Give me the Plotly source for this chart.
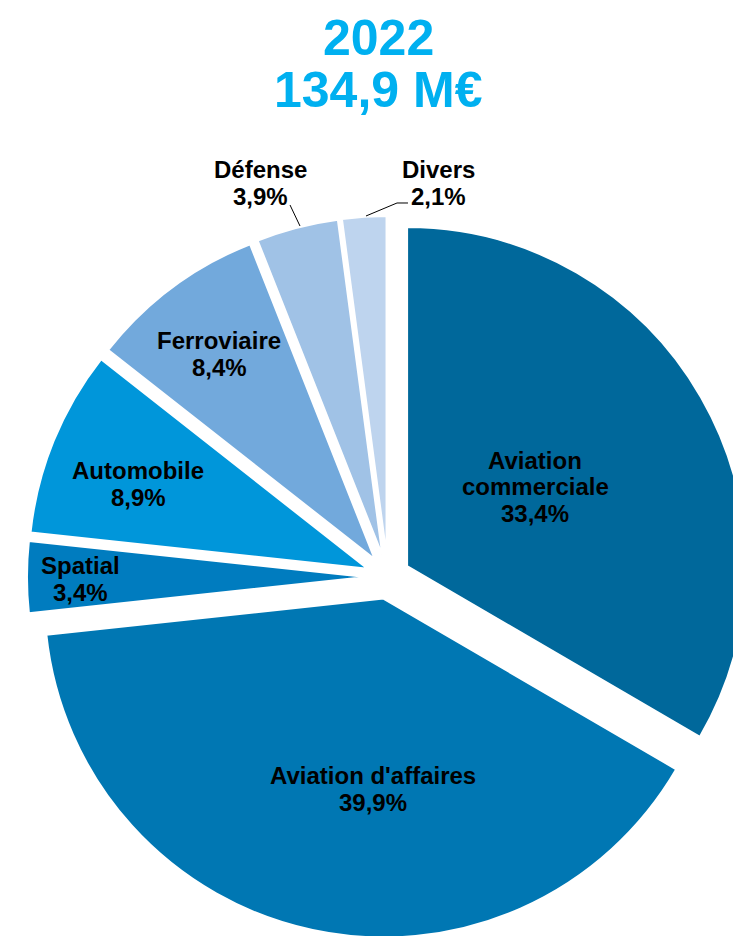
import plotly.graph_objects as go

categories = ["Aviation<br>commerciale", "Aviation d'affaires", "Spatial", "Automobile",
              "Ferroviaire", "Défense", "Divers"]
shares = [33.4, 39.9, 3.4, 8.9, 8.4, 3.9, 2.1]
share_labels = ["33,4%", "39,9%", "3,4%", "8,9%", "8,4%", "3,9%", "2,1%"]
colors = ["#00689B", "#0077B3", "#007CBF", "#0096DA", "#72A9DC", "#A0C2E6", "#BED4EE"]
title_year = "2022"
title_total = "134,9 M€"

W, H = 741, 936
OFF = 8  # page body margin offset (screen px = paper px + OFF)
FONT = "Liberation Sans, Arial, sans-serif"
LINE_SP = 27

# label block centres (screen px) and leader lines for the small outer labels
label_pos = [(535, 487), (373, 789), (80, 579), (138, 484), (219, 354), (260, 183), (438, 183)]
leaders = {5: [(300, 226), (290, 205)], 6: [(366, 216), (397, 203), (408, 203)]}


def px_x(sx):
    return (sx - OFF) / W


def px_y(sy):
    return 1 - (sy - OFF) / H


fig = go.Figure(go.Pie(
    labels=categories,
    values=shares,
    textposition="none",
    sort=False,
    direction="clockwise",
    rotation=0,
    pull=[0.065] * len(shares),
    marker=dict(colors=colors, line=dict(color="white", width=2)),
    domain=dict(x=[0.0256, 1.0], y=[0.0053, 0.7788]),
    showlegend=False,
    hoverinfo="none",
))

# title (two lines)
fig.add_annotation(text=f"<b>{title_year}</b>", x=px_x(378), y=1.0, xref="paper", yref="paper",
                   xanchor="center", yanchor="top", showarrow=False,
                   font=dict(family=FONT, size=50, color="#00B0F0"))
fig.add_annotation(text=f"<b>{title_total}</b>", x=px_x(378), y=px_y(90), xref="paper", yref="paper",
                   xanchor="center", yanchor="middle", showarrow=False,
                   font=dict(family=FONT, size=50, color="#00B0F0"))

# slice labels
for i, (cx, cy) in enumerate(label_pos):
    lines = categories[i].split("<br>") + [share_labels[i]]
    n = len(lines)
    for k, line in enumerate(lines):
        ly = cy + (k - (n - 1) / 2) * LINE_SP
        fig.add_annotation(text=f"<b>{line}</b>", x=px_x(cx), y=px_y(ly), xref="paper", yref="paper",
                           xanchor="center", yanchor="middle", showarrow=False,
                           font=dict(family=FONT, size=24, color="black"))

# leader lines
for idx, pts in leaders.items():
    path = "M " + " L ".join(f"{px_x(x):.5f},{px_y(y):.5f}" for x, y in pts)
    fig.add_shape(type="path", path=path, xref="paper", yref="paper",
                  line=dict(color="black", width=1))

fig.update_layout(
    width=W, height=H,
    margin=dict(l=0, r=0, t=0, b=0, autoexpand=False),
    paper_bgcolor="white", plot_bgcolor="white",
)

fig.write_html("out.html")
